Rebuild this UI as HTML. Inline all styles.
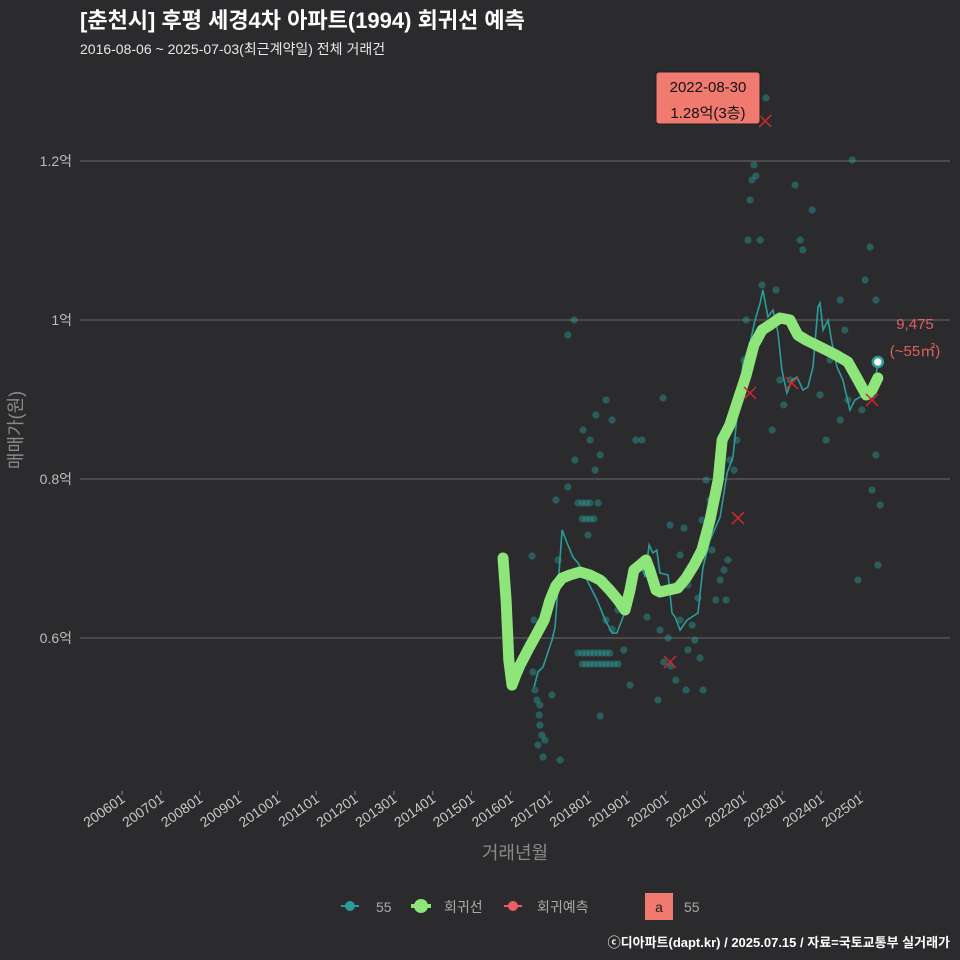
<!DOCTYPE html>
<html><head><meta charset="utf-8"><style>
body{margin:0;background:#2b2b2d;}
svg{display:block;font-family:"Liberation Sans","Noto Sans CJK KR",sans-serif;}
</style></head><body>
<svg id="c" width="960" height="960" viewBox="0 0 960 960">
<rect width="960" height="960" fill="#2b2b2d"/>
<text x="80" y="28" fill="#ffffff" font-size="22" font-weight="bold">[춘천시] 후평 세경4차 아파트(1994) 회귀선 예측</text>
<text x="80" y="54" fill="#e8e8e8" font-size="14">2016-08-06 ~ 2025-07-03(최근계약일) 전체 거래건</text>
<g id="grid"></g><g id="plot"></g><g id="axes"></g>
<text transform="translate(22,430) rotate(-90)" text-anchor="middle" fill="#8a8a8a" font-size="18">매매가(원)</text>
<text x="515" y="859" text-anchor="middle" fill="#8a8a8a" font-size="18">거래년월</text>
<g>
<g><line x1="341" y1="906" x2="359" y2="906" stroke="#2a9d9a" stroke-width="2"/><circle cx="350" cy="906" r="5" fill="#2a9d9a"/><text x="376" y="912" fill="#aaaaaa" font-size="14">55</text></g>
<g><line x1="411" y1="906" x2="431" y2="906" stroke="#8ee57a" stroke-width="4"/><circle cx="421" cy="906" r="7" fill="#8ee57a"/><text x="444" y="912" fill="#aaaaaa" font-size="14">회귀선</text></g>
<g><line x1="504" y1="906" x2="522" y2="906" stroke="#e86060" stroke-width="2"/><circle cx="513" cy="906" r="5" fill="#e86060"/><text x="537" y="912" fill="#aaaaaa" font-size="14">회귀예측</text></g>
<g><rect x="645" y="893" width="28" height="27" fill="#f07a70"/><text x="659" y="912" text-anchor="middle" fill="#222" font-size="14">a</text><text x="684" y="912" fill="#aaaaaa" font-size="14">55</text></g>
</g>
<text x="950" y="947" text-anchor="end" fill="#ffffff" font-size="13" font-weight="bold">ⓒ디아파트(dapt.kr) / 2025.07.15 / 자료=국토교통부 실거래가</text>
</svg>
<script>
const xTickLabels=["200601","200701","200801","200901","201001","201101","201201","201301","201401","201501","201601","201701","201801","201901","202001","202101","202201","202301","202401","202501"];
const yTicks=[6000,8000,10000,12000];
const yTickLabels=["0.6억","0.8억","1억","1.2억"];
const scatterYears=[2016.58,2016.63,2016.68,2016.74,2016.76,2016.81,2016.71,2016.84,2016.76,2016.89,2016.61,2016.56,2017.07,2016.97,2017.23,2017.28,2017.17,2017.48,2017.66,2017.87,2018.05,2018.20,2018.31,2017.64,2017.48,2017.74,2017.85,2017.95,2018.05,2018.26,2017.85,2017.95,2018.05,2018.15,2018.00,2017.74,2017.85,2017.95,2018.05,2018.15,2018.26,2018.36,2018.46,2018.56,2017.85,2017.95,2018.05,2018.15,2018.26,2018.36,2018.46,2018.56,2018.67,2018.77,2018.41,2018.31,2018.46,2018.62,2018.77,2018.92,2019.08,2019.23,2019.39,2019.93,2019.85,2019.95,2020.06,2020.13,2020.26,2020.37,2020.47,2020.57,2020.68,2020.75,2020.83,2020.93,2021.04,2021.14,2021.19,2021.29,2021.40,2021.50,2021.60,2021.65,2021.76,2021.83,2021.91,2021.96,2022.01,2022.07,2022.12,2022.17,2022.22,2022.27,2022.32,2022.43,2022.48,2022.58,2022.74,2022.84,2022.94,2023.04,2023.20,2023.33,2023.46,2023.53,2023.77,2023.97,2024.13,2024.23,2024.49,2024.69,2024.80,2024.95,2025.13,2025.26,2025.41,2025.46,2025.52,2025.31,2025.41,2024.49,2025.05,2024.61,2020.11,2020.37,2020.88,2020.96,2021.55,2020.57,2019.80,2020.52,2019.52,2018.46,2018.62,2018.18];
const scatterValues=[5572,5345,5220,5031,4905,4779,4654,4503,5157,4716,6226,7031,5283,6352,6981,4465,7736,7899,8239,8616,8490,8805,8302,10000,9811,7698,7698,7698,7698,7698,7497,7497,7497,7497,7295,5811,5811,5811,5811,5811,5811,5811,5811,5811,5672,5672,5672,5672,5672,5672,5672,5672,5672,5672,6729,5018,6226,6113,6352,5849,5408,8490,8490,9019,6100,5698,6000,5647,5471,7044,7383,6666,6163,5974,6503,7484,7987,7736,7107,6478,6729,6855,6981,8239,8113,8490,8994,9182,9497,10000,11006,11510,11761,11950,11812,11006,10440,12793,8616,10377,9245,8931,9245,11698,11006,10881,11384,9057,8490,9497,8742,8994,12013,6729,10503,10918,10252,6918,7673,7861,8302,10252,8868,9874,7421,6226,5748,5345,6478,5849,5220,5345,6264,8994,8742,8113];
const medianYears=[2016.61,2016.71,2016.84,2017.07,2017.15,2017.33,2017.46,2017.61,2017.74,2017.97,2018.23,2018.44,2018.62,2018.74,2018.90,2019.08,2019.34,2019.47,2019.57,2019.67,2019.77,2019.85,2020.06,2020.16,2020.24,2020.37,2020.55,2020.83,2020.96,2021.14,2021.40,2021.58,2021.73,2021.86,2021.99,2022.17,2022.30,2022.43,2022.50,2022.63,2022.76,2022.89,2022.99,2023.12,2023.25,2023.38,2023.53,2023.66,2023.79,2023.92,2023.97,2024.05,2024.18,2024.28,2024.41,2024.56,2024.74,2024.87,2025.00,2025.18,2025.34,2025.46];
const medianValues=[5383,5572,5635,5974,6138,7358,7195,7019,6943,6729,6478,6226,6062,6062,6264,6566,6943,6767,7170,7069,7107,6817,6792,6314,6264,6100,6226,6314,6893,7232,7522,8075,8277,8906,9459,9711,10000,10214,10377,10038,10126,9836,9371,9082,9245,9283,9119,9157,9409,10164,10214,9874,10000,9711,9409,9245,8868,8994,9031,9031,9031,9472];
const regYears=[2015.81,2015.89,2015.96,2016.04,2016.14,2016.25,2016.45,2016.66,2016.87,2017.02,2017.17,2017.33,2017.53,2017.79,2018.05,2018.31,2018.56,2018.77,2018.95,2019.08,2019.18,2019.34,2019.49,2019.59,2019.75,2019.85,2020.06,2020.31,2020.52,2020.73,2020.93,2021.14,2021.35,2021.45,2021.65,2021.86,2022.07,2022.27,2022.48,2022.68,2022.94,2023.20,2023.40,2023.61,2023.87,2024.13,2024.38,2024.69,2024.95,2025.16,2025.31,2025.46];
const regValues=[7006,6478,5723,5408,5534,5660,5849,6037,6226,6478,6654,6754,6792,6830,6792,6729,6603,6478,6352,6603,6855,6918,6981,6855,6603,6578,6603,6629,6754,6918,7107,7484,7987,8490,8679,8994,9308,9685,9874,9937,10025,10000,9811,9748,9685,9623,9560,9472,9245,9057,9119,9270];
const predYears=[2020.11,2021.86,2022.17,2022.56,2023.25,2025.31];
const predValues=[5698,7509,9082,12503,9207,8994];

const NS="http://www.w3.org/2000/svg";
function xs(yr){return 122+(yr-2006)*38.84;}
function ys(v){return 320-(v-10000)*0.0795;}
function mk(tag,attrs,parent){const e=document.createElementNS(NS,tag);for(const k in attrs)e.setAttribute(k,attrs[k]);parent.appendChild(e);return e;}
const grid=document.getElementById('grid'),plot=document.getElementById('plot'),axes=document.getElementById('axes');
yTicks.forEach((t,i)=>{
  const l=mk('line',{x1:80,x2:950,y1:ys(t),y2:ys(t),stroke:'#6a6a6a','stroke-width':1},grid);
  
  
  const tx=mk('text',{x:72,y:ys(t)+5,'text-anchor':'end',fill:'#bdbdbd','font-size':14},axes);
  tx.textContent=yTickLabels[i];
  
  
});
xTickLabels.forEach((lab,i)=>{
  const yr=parseInt(lab.slice(0,4));const x=xs(yr);
  const tk=mk('line',{x1:x,x2:x,y1:791,y2:795,stroke:'#888','stroke-width':1},axes);
  
  
  const tx=mk('text',{transform:`translate(${x+4},${801}) rotate(-35)`,'text-anchor':'end',fill:'#c8c8c8','font-size':14},axes);
  tx.textContent=lab;
  
  
});
scatterYears.forEach((yr,i)=>{
  const c=mk('circle',{cx:xs(yr),cy:ys(scatterValues[i]),r:3.6,fill:'#2a9d9a','fill-opacity':0.45},plot);
  
  
});
const mp=medianYears.map((y,i)=>xs(y).toFixed(1)+','+ys(medianValues[i]).toFixed(1)).join(' ');
const ml=mk('polyline',{points:mp,fill:'none',stroke:'#2a9d9a','stroke-width':1.6},plot);


const rp=regYears.map((y,i)=>xs(y).toFixed(1)+','+ys(regValues[i]).toFixed(1)).join(' ');
const rl=mk('polyline',{points:rp,fill:'none',stroke:'#8ee57a','stroke-width':11,'stroke-linecap':'round','stroke-linejoin':'round'},plot);


predYears.forEach((yr,i)=>{
  const x=xs(yr),y=ys(predValues[i]);
  const g=mk('g',{stroke:'#d0282a','stroke-width':1.5},plot);
  
  
  mk('line',{x1:x-6,y1:y-6,x2:x+6,y2:y+6},g);mk('line',{x1:x-6,y1:y+6,x2:x+6,y2:y-6},g);
});
const li=medianYears.length-1;
const ep=mk('circle',{cx:xs(medianYears[li]),cy:ys(medianValues[li]),r:5,fill:'#ffffff',stroke:'#2a9d9a','stroke-width':2.5},plot);


const t1=mk('text',{x:915,y:329,'text-anchor':'middle',fill:'#e06060','font-size':15},plot);t1.textContent='9,475';


const t2=mk('text',{x:915,y:356,'text-anchor':'middle',fill:'#e06060','font-size':15},plot);t2.textContent='(~55㎡)';


const box=mk('g',{},plot);


mk('rect',{x:656,y:72,width:104,height:52,rx:3,fill:'#f07a70',stroke:'#222','stroke-width':1},box);
const a1=mk('text',{x:708,y:92,'text-anchor':'middle',fill:'#111','font-size':15},box);a1.textContent='2022-08-30';
const a2=mk('text',{x:708,y:118,'text-anchor':'middle',fill:'#111','font-size':15},box);a2.textContent='1.28억(3층)';
</script>
</body></html>
